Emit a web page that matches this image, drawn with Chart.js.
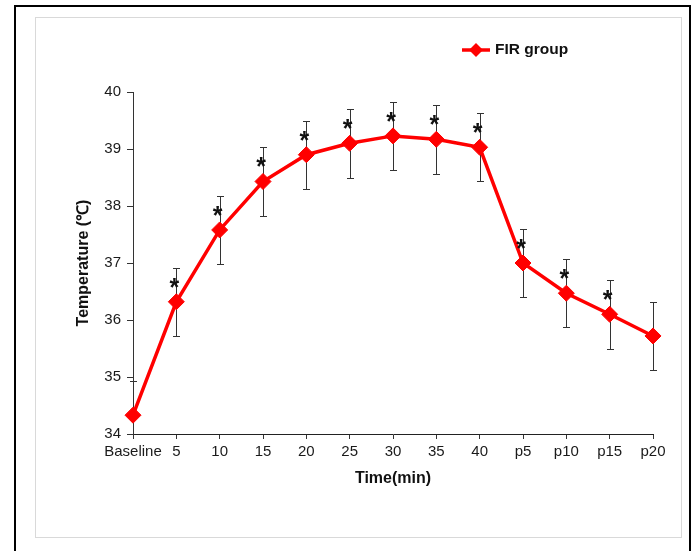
<!DOCTYPE html>
<html>
<head>
<meta charset="utf-8">
<script src="https://cdn.jsdelivr.net/npm/chart.js@4"></script>
<style>
  html, body { margin: 0; padding: 0; background: #fff; }
  #wrap { position: relative; width: 693px; height: 551px; overflow: hidden; }
  #outer { position: absolute; left: 14px; top: 5px; width: 673px; height: 600px; border: 2px solid #000; }
  #inner { position: absolute; left: 35px; top: 17px; width: 645px; height: 519px; border: 1.5px solid #d9d9d9; }
  canvas { position: absolute; left: 0; top: 0; }
</style>
</head>
<body>
<div id="wrap">
  <div id="outer"></div>
  <div id="inner"></div>
  <canvas id="mychart" width="693" height="551"></canvas>
</div>
<script>
const labels = ['Baseline', '5', '10', '15', '20', '25', '30', '35', '40', 'p5', 'p10', 'p15', 'p20'];
const temps = [34.33, 36.32, 37.58, 38.43, 38.90, 39.10, 39.23, 39.17, 39.03, 37.00, 36.47, 36.10, 35.72];
const sds = [0.6, 0.6, 0.6, 0.6, 0.6, 0.6, 0.6, 0.6, 0.6, 0.6, 0.6, 0.6, 0.6];
const signif = [false, true, true, true, true, true, true, true, true, true, true, true, false];

const FONT = "'Liberation Sans', Arial, sans-serif";

// error bars + asterisks
const errorBars = {
  id: 'errorBars',
  beforeDatasetsDraw(chart) {
    const ctx = chart.ctx;
    const x = chart.scales.x, y = chart.scales.y;
    const a = chart.chartArea;
    ctx.save();
    ctx.beginPath();
    ctx.rect(a.left - 10, a.top - 40, a.right - a.left + 20, a.bottom - a.top + 40);
    ctx.clip();
    ctx.strokeStyle = '#333';
    ctx.lineWidth = 1;
    temps.forEach((v, i) => {
      const px = Math.round(x.getPixelForValue(i)) + 0.5;
      const top = Math.round(y.getPixelForValue(v + sds[i])) + 0.5;
      const bot = Math.round(y.getPixelForValue(v - sds[i])) + 0.5;
      ctx.beginPath();
      ctx.moveTo(px, top); ctx.lineTo(px, bot);
      ctx.moveTo(px - 3.5, top); ctx.lineTo(px + 3.5, top);
      ctx.moveTo(px - 3.5, bot); ctx.lineTo(px + 3.5, bot);
      ctx.stroke();
    });
    ctx.restore();
  },
  afterDatasetsDraw(chart) {
    const ctx = chart.ctx;
    const x = chart.scales.x, y = chart.scales.y;
    ctx.save();
    ctx.fillStyle = '#111';
    ctx.font = 'bold 25px ' + FONT;
    ctx.textAlign = 'center';
    ctx.textBaseline = 'alphabetic';
    temps.forEach((v, i) => {
      if (!signif[i]) return;
      const px = x.getPixelForValue(i) - 2;
      const py = y.getPixelForValue(v) - 19;
      ctx.fillText('*', px, py + 13);
    });
    ctx.restore();
  },
  afterDraw(chart) {
    // legend: line with diamond marker
    const ctx = chart.ctx;
    ctx.save();
    ctx.strokeStyle = '#ff0000';
    ctx.fillStyle = '#ff0000';
    ctx.lineWidth = 3.5;
    ctx.beginPath();
    ctx.moveTo(462, 50); ctx.lineTo(490, 50);
    ctx.stroke();
    ctx.beginPath();
    ctx.moveTo(476, 43); ctx.lineTo(483, 50); ctx.lineTo(476, 57); ctx.lineTo(469, 50);
    ctx.closePath();
    ctx.fill();
    ctx.fillStyle = '#111';
    ctx.font = 'bold 15.5px ' + FONT;
    ctx.textAlign = 'left';
    ctx.textBaseline = 'middle';
    ctx.fillText('FIR group', 495, 50);
    ctx.restore();
  }
};

const data = {
  labels: labels,
  datasets: [{
    label: 'FIR group',
    data: temps,
    borderColor: '#ff0000',
    backgroundColor: '#ff0000',
    borderWidth: 3.5,
    pointStyle: 'rectRot',
    pointRadius: 8,
    pointHoverRadius: 8,
    pointBorderWidth: 1,
    tension: 0,
    fill: false,
    clip: false
  }]
};

const config = {
  type: 'line',
  data: data,
  plugins: [errorBars],
  options: {
    responsive: false,
    animation: false,
    events: [],
    layout: { padding: { left: 74, top: 92, right: 40, bottom: 63 } },
    plugins: { legend: { display: false }, tooltip: { enabled: false } },
    scales: {
      x: {
        offset: false,
        grid: { drawOnChartArea: false, tickLength: 5, color: '#333' },
        border: { color: '#222', width: 1 },
        ticks: { color: '#1a1a1a', font: { family: FONT, size: 15 }, padding: 4, maxRotation: 0, autoSkip: false },
        title: { display: true, text: 'Time(min)', color: '#111', font: { family: FONT, size: 16, weight: 'bold' }, padding: 0 },
        afterFit(s) { s.height = 54; }
      },
      y: {
        min: 34,
        max: 40,
        grid: { drawOnChartArea: false, tickLength: 6, color: '#333' },
        border: { color: '#333', width: 1 },
        ticks: { stepSize: 1, color: '#1a1a1a', font: { family: FONT, size: 15 }, padding: 6 },
        title: { display: true, text: 'Temperature (℃)', color: '#111', font: { family: FONT, size: 16, weight: 'bold' }, padding: 0 },
        afterFit(s) { s.width = 59; }
      }
    }
  }
};

const lineChart = new Chart(document.querySelector('#mychart'), config);
</script>
</body>
</html>
